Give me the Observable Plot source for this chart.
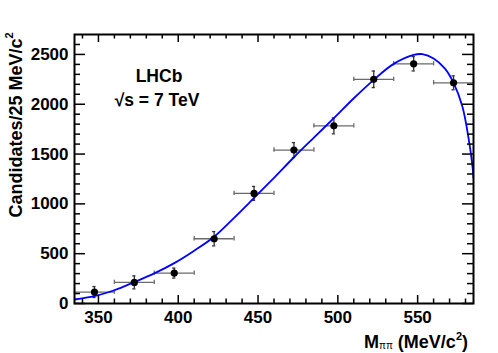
<!DOCTYPE html>
<html>
<head>
<meta charset="utf-8">
<script src="https://cdn.jsdelivr.net/npm/d3@7"></script>
<script src="https://cdn.jsdelivr.net/npm/@observablehq/plot@0.6"></script>
<style>
  html, body { margin: 0; padding: 0; background: #fff; }
  #chart svg { display: block; }
</style>
</head>
<body>
<div id="chart"></div>
<script>
// ---- data ----
const binCenters = [347.5, 372.5, 397.5, 422.5, 447.5, 472.5, 497.5, 522.5, 547.5, 572.5];
const candidates = [115, 212, 305, 650, 1105, 1540, 1783, 2250, 2406, 2215];
const candErrors = [55, 65, 50, 72, 70, 75, 80, 83, 72, 70];
const binHalfWidth = 12.5;

const fitMass  = [335, 347.5, 360, 372.5, 385, 397.5, 410, 422.5, 435, 447.5, 460, 472.5, 485, 497.5, 510, 522.5, 535, 547.5, 553, 560, 567, 572.5, 578, 582, 584.4, 585];
const fitValue = [40, 74, 133, 215, 302, 405, 530, 670, 860, 1060, 1262, 1468, 1665, 1860, 2060, 2245, 2405, 2495, 2503, 2460, 2360, 2215, 1980, 1650, 1372, 1260];

const xMajorTicks = [350, 400, 450, 500, 550];
const xMinorTicks = [340, 360, 370, 380, 390, 410, 420, 430, 440, 460, 470, 480, 490, 510, 520, 530, 540, 560, 570, 580];
const yMajorTicks = [0, 500, 1000, 1500, 2000, 2500];
const yMinorTicks = [100, 200, 300, 400, 600, 700, 800, 900, 1100, 1200, 1300, 1400, 1600, 1700, 1800, 1900, 2100, 2200, 2300, 2400, 2600];

const xDomain = [335, 585];
const yDomain = [0, 2700];

// ---- layout ----
const W = 498, H = 353;
const mTop = 34, mRight = 25, mBottom = 50, mLeft = 74;
const plotW = W - mLeft - mRight;
const plotH = H - mTop - mBottom;
const pxPerX = plotW / (xDomain[1] - xDomain[0]);
const pxPerY = plotH / (yDomain[1] - yDomain[0]);
const hCap = 2.2 / pxPerY;   // half-height of horizontal error bar end caps
const vCap = 1.6 / pxPerX;   // half-width of vertical error bar end caps

const rows = binCenters.map((m, i) => ({m, v: candidates[i], e: candErrors[i]}));
const fit = fitMass.map((m, i) => ({m, v: fitValue[i]}));

const font = "'Liberation Sans', Arial, Helvetica, sans-serif";
const tickW = 1.5;

const svgEl = Plot.plot({
  width: W,
  height: H,
  marginTop: mTop,
  marginRight: mRight,
  marginBottom: mBottom,
  marginLeft: mLeft,
  style: {fontFamily: font, background: "#fff", color: "#000", overflow: "visible"},
  x: {domain: xDomain},
  y: {domain: yDomain},
  marks: [
    // horizontal (bin width) error bars
    Plot.ruleY(rows, {y: "v", x1: d => d.m - binHalfWidth, x2: d => d.m + binHalfWidth, stroke: "#6a6a6a", strokeWidth: 1.3}),
    Plot.ruleX(rows, {x: d => d.m - binHalfWidth, y1: d => d.v - hCap, y2: d => d.v + hCap, stroke: "#6a6a6a", strokeWidth: 1.3}),
    Plot.ruleX(rows, {x: d => d.m + binHalfWidth, y1: d => d.v - hCap, y2: d => d.v + hCap, stroke: "#6a6a6a", strokeWidth: 1.3}),
    // vertical error bars
    Plot.ruleX(rows, {x: "m", y1: d => d.v - d.e, y2: d => d.v + d.e, stroke: "#333", strokeWidth: 1.3}),
    Plot.ruleY(rows, {y: d => d.v - d.e, x1: d => d.m - vCap, x2: d => d.m + vCap, stroke: "#333", strokeWidth: 1.3}),
    Plot.ruleY(rows, {y: d => d.v + d.e, x1: d => d.m - vCap, x2: d => d.m + vCap, stroke: "#333", strokeWidth: 1.3}),
    // fit curve
    Plot.line(fit, {x: "m", y: "v", stroke: "#0000ff", strokeWidth: 1.8, curve: "catmull-rom", clip: true}),
    // data points
    Plot.dot(rows, {x: "m", y: "v", r: 3.6, fill: "#000", stroke: "none"}),
    // inward ticks: bottom / top
    Plot.tickX(xMajorTicks, {x: d => d, insetTop: plotH - 8, stroke: "#000", strokeWidth: tickW}),
    Plot.tickX(xMinorTicks, {x: d => d, insetTop: plotH - 4.5, stroke: "#000", strokeWidth: tickW}),
    Plot.tickX(xMajorTicks, {x: d => d, insetBottom: plotH - 8, stroke: "#000", strokeWidth: tickW}),
    Plot.tickX(xMinorTicks, {x: d => d, insetBottom: plotH - 4.5, stroke: "#000", strokeWidth: tickW}),
    // inward ticks: left / right
    Plot.tickY(yMajorTicks, {y: d => d, insetRight: plotW - 11, stroke: "#000", strokeWidth: tickW}),
    Plot.tickY(yMinorTicks, {y: d => d, insetRight: plotW - 6, stroke: "#000", strokeWidth: tickW}),
    Plot.tickY(yMajorTicks, {y: d => d, insetLeft: plotW - 11, stroke: "#000", strokeWidth: tickW}),
    Plot.tickY(yMinorTicks, {y: d => d, insetLeft: plotW - 6, stroke: "#000", strokeWidth: tickW}),
    Plot.frame({stroke: "#000", strokeWidth: 2}),
    // tick labels
    Plot.axisX({ticks: xMajorTicks, tickSize: 0, tickPadding: 7, fontSize: 17, fontWeight: "bold", label: null, tickFormat: d => String(d)}),
    Plot.axisY({ticks: yMajorTicks, tickSize: 0, tickPadding: 6, fontSize: 17, fontWeight: "bold", label: null, tickFormat: d => String(d)})
  ]
});

document.getElementById("chart").appendChild(svgEl);

const svg = d3.select(svgEl);

// Y axis title
const yt = svg.append("text")
  .attr("transform", "translate(21.5,125) rotate(-90)")
  .attr("text-anchor", "middle")
  .attr("font-family", font)
  .attr("font-weight", "bold")
  .attr("font-size", 18)
  .attr("fill", "#000");
yt.append("tspan").text("Candidates/25 MeV/c");
yt.append("tspan").attr("font-size", 11).attr("dy", "-0.75em").text("2");

// X axis title
const xt = svg.append("text")
  .attr("x", 468)
  .attr("y", 348)
  .attr("text-anchor", "end")
  .attr("font-family", font)
  .attr("font-weight", "bold")
  .attr("font-size", 18)
  .attr("fill", "#000");
xt.append("tspan").text("M");
xt.append("tspan").attr("font-size", 10).attr("font-weight", "normal").attr("dy", "1").text("ππ");
xt.append("tspan").attr("dy", "-1").text(" (MeV/c");
xt.append("tspan").attr("font-size", 11).attr("dy", "-8").text("2");
xt.append("tspan").attr("dy", "8").text(")");

// Experiment labels
svg.append("text")
  .attr("x", 159).attr("y", 81.5)
  .attr("text-anchor", "middle")
  .attr("font-family", font).attr("font-weight", "bold").attr("font-size", 17.5)
  .attr("fill", "#000")
  .text("LHCb");
svg.append("text")
  .attr("x", 157).attr("y", 106)
  .attr("text-anchor", "middle")
  .attr("font-family", font).attr("font-weight", "bold").attr("font-size", 17.5)
  .attr("fill", "#000")
  .text("√s = 7 TeV");
</script>
</body>
</html>
